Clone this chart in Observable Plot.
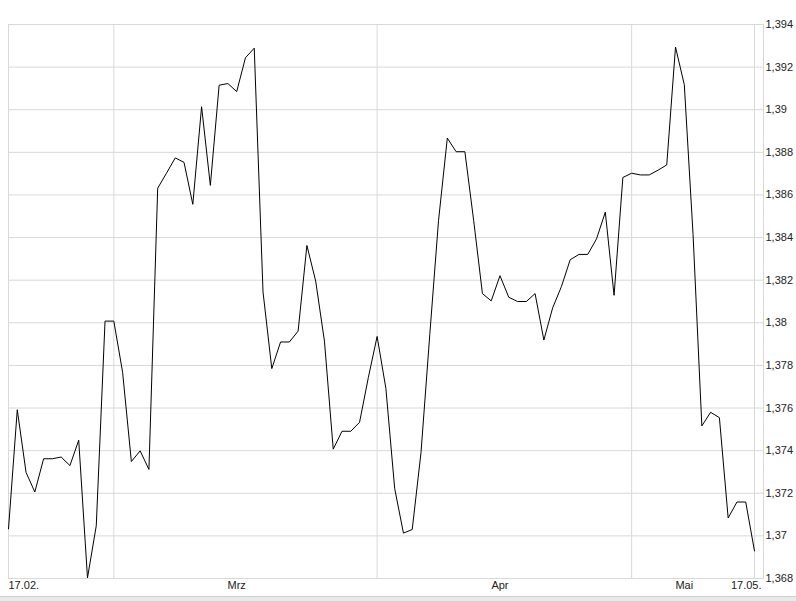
<!DOCTYPE html>
<html>
<head>
<meta charset="utf-8">
<script src="https://cdn.jsdelivr.net/npm/d3@7"></script>
<script src="https://cdn.jsdelivr.net/npm/@observablehq/plot@0.6"></script>
<style>
  html, body { margin: 0; padding: 0; background: #fff; }
  #chart { width: 796px; }
  #band { width: 796px; height: 4px; border-top: 1px solid #cfcfcf; background: #e9e9e9; }
</style>
</head>
<body>
<div id="chart"></div>
<div id="band"></div>
<script>
// ---- data ----
const startDate = "2013-02-17";
const endDate = "2013-05-17";
const missingDates = ["2013-03-29", "2013-04-21", "2013-05-09", "2013-05-12"];

const values = [
  1.37033, 1.37592, 1.37298, 1.37206, 1.37362, 1.37362, 1.37370, 1.37330, 1.37449, 1.36803,
  1.37047, 1.38008, 1.38008, 1.37768, 1.37349, 1.37399, 1.37312, 1.38632, 1.38702, 1.38774,
  1.38753, 1.38556, 1.39014, 1.38645, 1.39115, 1.39123, 1.39085, 1.39244, 1.39289, 1.38145,
  1.37785, 1.37910, 1.37910, 1.37961, 1.38363, 1.38196, 1.37914, 1.37407, 1.37491, 1.37491,
  1.37533, 1.37743, 1.37936, 1.37692, 1.37223, 1.37013, 1.37030, 1.37390, 1.37944, 1.38481,
  1.38867, 1.38803, 1.38803, 1.38481, 1.38137, 1.38103, 1.38221, 1.38120, 1.38100, 1.38100,
  1.38137, 1.37919, 1.38070, 1.38170, 1.38296, 1.38321, 1.38321, 1.38394, 1.38519, 1.38129,
  1.38682, 1.38702, 1.38694, 1.38694, 1.38716, 1.38741, 1.39294, 1.39118, 1.38414, 1.37516,
  1.37580, 1.37555, 1.37084, 1.37159, 1.37159, 1.36929
];

const yTicks = [1.368, 1.370, 1.372, 1.374, 1.376, 1.378, 1.380, 1.382, 1.384, 1.386, 1.388, 1.390, 1.392, 1.394];
const yTickLabels = ["1,368", "1,37", "1,372", "1,374", "1,376", "1,378", "1,38", "1,382", "1,384", "1,386", "1,388", "1,39", "1,392", "1,394"];

const gridDates = ["2013-03-01", "2013-04-01", "2013-05-01", "2013-05-17"];
const monthLabelDates = ["2013-03-15", "2013-04-15", "2013-05-07"];
const monthLabels = ["Mrz", "Apr", "Mai"];
const startLabel = "17.02.";
const endLabel = "17.05.";

// ---- build ----
const fmt = d3.utcFormat("%Y-%m-%d");
const dates = d3.utcDays(new Date(startDate), d3.utcDay.offset(new Date(endDate), 1))
  .map(fmt)
  .filter(d => !missingDates.includes(d));
const series = dates.map((d, i) => ({date: d, value: values[i]}));
const months = monthLabelDates.map((d, i) => ({date: d, label: monthLabels[i]}));

const gridColor = "#d9d9d9";

const chart = Plot.plot({
  width: 796,
  height: 596,
  marginLeft: 8,
  marginRight: 33,
  marginTop: 24,
  marginBottom: 18,
  style: {fontFamily: "'Liberation Sans', Arial, sans-serif", fontSize: "11px", color: "#222", background: "#fff"},
  x: {type: "point", domain: dates, range: [8, 754], padding: 0, axis: null},
  y: {domain: [1.368, 1.394], axis: null},
  marks: [
    Plot.gridY(yTicks, {stroke: gridColor, strokeOpacity: 1}),
    Plot.ruleX(gridDates, {stroke: gridColor, strokeOpacity: 1}),
    Plot.frame({stroke: gridColor}),
    Plot.axisY(yTicks, {anchor: "right", tickSize: 0, tickPadding: 2, tickFormat: (d, i) => yTickLabels[i], label: null, fill: "#222", fontSize: 11}),
    Plot.line(series, {x: "date", y: "value", stroke: "#000", strokeWidth: 1}),
    Plot.text(months, {x: "date", text: "label", frameAnchor: "bottom", dy: 10, fill: "#222", fontSize: 11}),
    Plot.text([startLabel], {text: d => d, frameAnchor: "bottom-left", textAnchor: "start", dy: 10, fill: "#222", fontSize: 11}),
    Plot.text([endLabel], {text: d => d, frameAnchor: "bottom-right", textAnchor: "end", dx: -2, dy: 10, fill: "#222", fontSize: 11})
  ]
});
document.getElementById("chart").appendChild(chart);
</script>
</body>
</html>
